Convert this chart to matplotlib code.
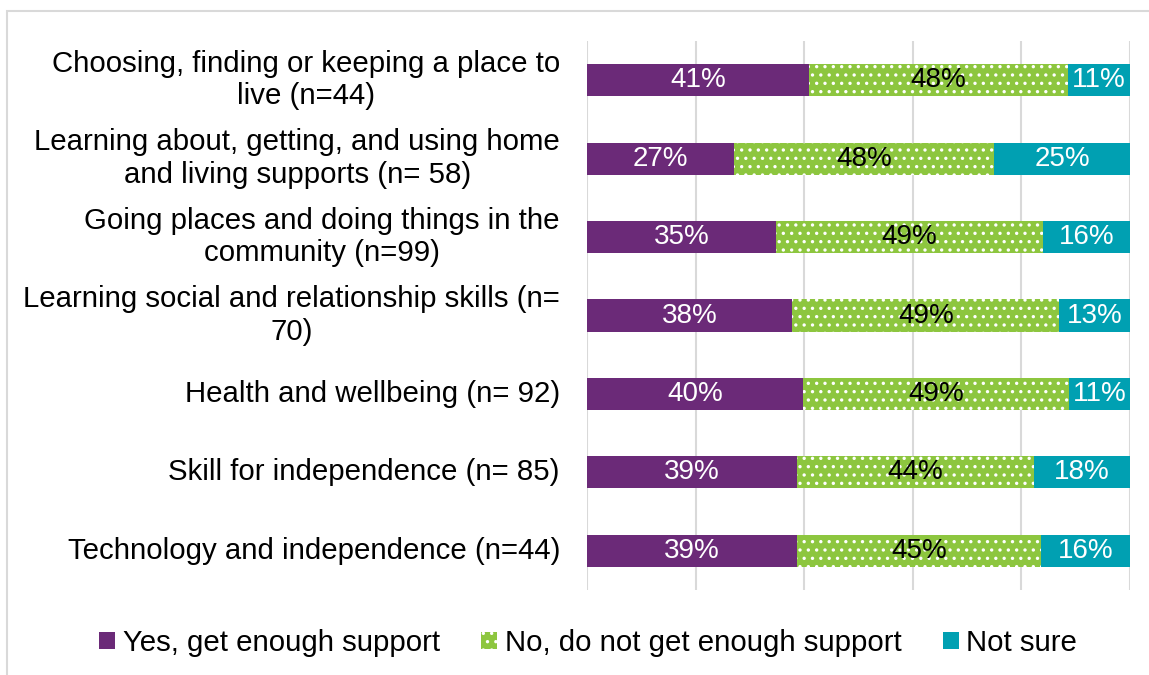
import matplotlib
matplotlib.use("Agg")
import matplotlib.pyplot as plt
from matplotlib.patches import Rectangle

plt.rcParams['font.family'] = ['Liberation Sans', 'DejaVu Sans']
plt.rcParams['hatch.linewidth'] = 1.2

categories = [
    "Choosing, finding or keeping a place to\nlive (n=44)",
    "Learning about, getting, and using home\nand living supports (n= 58)",
    "Going places and doing things in the\ncommunity (n=99)",
    "Learning social and relationship skills (n=\n70)",
    "Health and wellbeing (n= 92)",
    "Skill for independence (n= 85)",
    "Technology and independence (n=44)",
]
yes_vals = [40.9, 27.0, 34.8, 37.8, 39.8, 38.6, 38.6]
no_vals = [47.7, 48.0, 49.2, 49.2, 49.0, 43.8, 45.0]
unsure_vals = [11.4, 25.0, 16.0, 13.0, 11.2, 17.6, 16.4]
series_names = ["Yes, get enough support", "No, do not get enough support", "Not sure"]

purple = "#6B2A78"
green = "#8DC63F"
teal = "#00A0B2"
FS = 21.2
FS_LAB = 20

fig = plt.figure(figsize=(11.49, 6.75), dpi=100)
# outer border
fig.add_artist(Rectangle((7/1149, -0.1), 1.2, 1 - 11/675 + 0.1, transform=fig.transFigure,
                         fill=False, edgecolor="#D9D9D9", linewidth=1.5))
ax = fig.add_axes([587/1149, 1 - 590/675, (1130 - 587)/1149, (590 - 41)/675])

y = list(range(len(categories)))
h = 0.41
b1 = ax.barh(y, yes_vals, height=h, color=purple, zorder=3, label=series_names[0])
b2 = ax.barh(y, no_vals, left=yes_vals, height=h, color=green, edgecolor="white",
             linewidth=0, hatch="..", zorder=3, label=series_names[1])
left3 = [a + b for a, b in zip(yes_vals, no_vals)]
b3 = ax.barh(y, unsure_vals, left=left3, height=h, color=teal, zorder=3, label=series_names[2])

for i in y:
    ax.text(yes_vals[i] / 2, i, f"{round(yes_vals[i])}%", ha="center", va="center",
            color="white", fontsize=FS_LAB, zorder=4)
    ax.text(yes_vals[i] + no_vals[i] / 2, i, f"{round(no_vals[i])}%", ha="center", va="center",
            color="black", fontsize=FS_LAB, zorder=4)
    ax.text(left3[i] + unsure_vals[i] / 2, i, f"{round(unsure_vals[i])}%", ha="center", va="center",
            color="white", fontsize=FS_LAB, zorder=4)

ax.set_xlim(0, 100)
ax.set_ylim(len(categories) - 0.5, -0.5)
ax.set_xticks([0, 20, 40, 60, 80, 100])
ax.set_xticklabels([])
ax.tick_params(axis="x", length=0)
ax.grid(axis="x", color="#D9D9D9", linewidth=1.5, zorder=0)
ax.set_yticks([])
for s in ax.spines.values():
    s.set_visible(False)

for i, c in enumerate(categories):
    ax.annotate(c, xy=(0, i), xycoords=("axes fraction", "data"), xytext=(-27, 0),
                textcoords="offset pixels", ha="right", va="center", multialignment="center",
                fontsize=FS, color="black", linespacing=1.2)

fig.legend(handles=[b1, b2, b3], labels=series_names, loc="center", bbox_to_anchor=(588/1149, 1 - 643/675),
           ncol=3, frameon=False, fontsize=FS, handlelength=0.55, handleheight=0.55,
           handletextpad=0.25, columnspacing=1.4)

fig.savefig("out.png", dpi=100)
